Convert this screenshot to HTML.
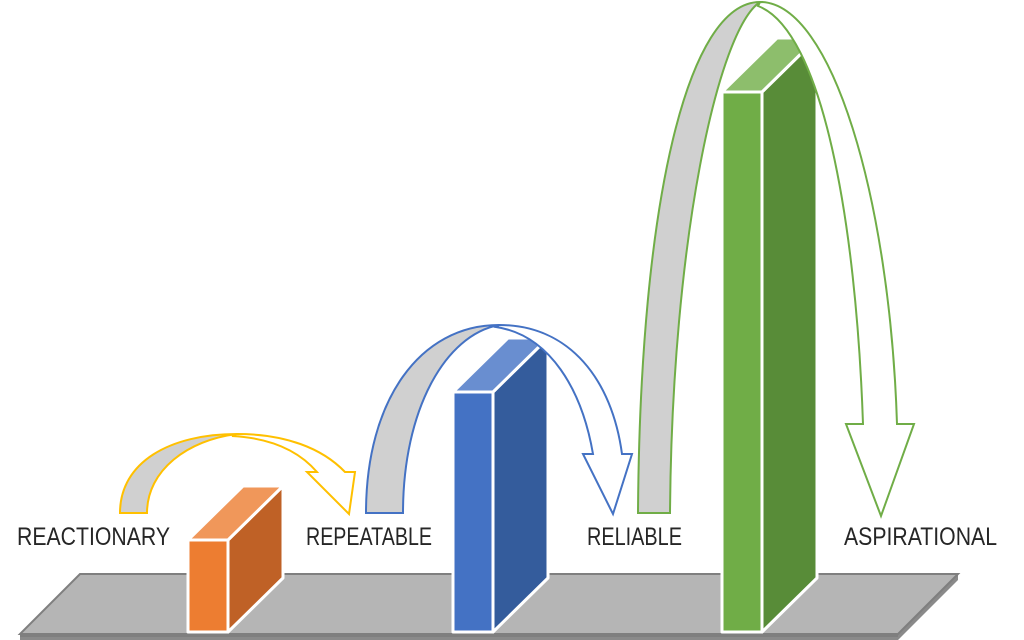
<!DOCTYPE html>
<html><head><meta charset="utf-8"><style>
html,body{margin:0;padding:0;background:#fff;width:1024px;height:640px;overflow:hidden}
svg{display:block}
text{font-family:"Liberation Sans",sans-serif;font-size:25px;fill:#262626;font-weight:normal}
</style></head><body>
<svg width="1024" height="640" viewBox="0 0 1024 640" xmlns="http://www.w3.org/2000/svg">
<!-- platform -->
<polygon points="958,574 958,580 898,640 20,640 20,634 898,634" fill="#8a8a8a"/>
<polygon points="80,574 958,574 898,634 20,634" fill="#b5b5b5" stroke="#7f7f7f" stroke-width="2"/>
<line x1="20" y1="636" x2="898" y2="636" stroke="#7f7f7f" stroke-width="2"/>

<!-- labels -->
<text x="17" y="545" textLength="153" lengthAdjust="spacingAndGlyphs">REACTIONARY</text>
<text x="306" y="545" textLength="126" lengthAdjust="spacingAndGlyphs">REPEATABLE</text>
<text x="587" y="545" textLength="95" lengthAdjust="spacingAndGlyphs">RELIABLE</text>
<text x="844" y="545" textLength="153" lengthAdjust="spacingAndGlyphs">ASPIRATIONAL</text>

<!-- orange arrow back -->
<path d="M120,513 C120,462 170,434 237,434 C188,440 147,470 147,513 Z" fill="#d0d0d0" stroke="#ffc000" stroke-width="2"/>
<!-- orange bar -->
<g stroke="#fff" stroke-width="3" stroke-linejoin="round">
<polygon points="228,540 283,486 283,578 228,632" fill="#bf6126"/>
<polygon points="188,540 243,486 283,486 228,540" fill="#f0975a"/>
<rect x="188" y="540" width="40" height="92" fill="#ed7d31"/>
</g>
<!-- orange arrow front -->
<path d="M237,434 C285,434 322,448 345,472 L355,472 L349,514 L307,472 L317,472 C298,450 270,438 232,436 Z" fill="#fff" stroke="#ffc000" stroke-width="2" stroke-linejoin="miter"/>

<!-- blue arrow back -->
<path d="M366,513 C366,400 420,325 499,325 C445,335 403,410 403,513 Z" fill="#d0d0d0" stroke="#4472c4" stroke-width="2"/>
<g stroke="#fff" stroke-width="3" stroke-linejoin="round">
<polygon points="493,392 548,338 548,578 493,632" fill="#345c9c"/>
<polygon points="453,392 508,338 548,338 493,392" fill="#698ed0"/>
<rect x="453" y="392" width="40" height="240" fill="#4472c4"/>
</g>
<path d="M499,325 C570,325 612,380 622,454 L632,454 L613,514 L583,454 L593,454 C582,390 550,335 496,327 Z" fill="#fff" stroke="#4472c4" stroke-width="2"/>

<!-- green arrow back -->
<path d="M638,513 C640,200 688,2 760,2 C718,30 672,240 670,513 Z" fill="#d0d0d0" stroke="#70ad47" stroke-width="2"/>
<g stroke="#fff" stroke-width="3" stroke-linejoin="round">
<polygon points="762,92 817,38 817,578 762,632" fill="#588c38"/>
<polygon points="722,92 777,38 817,38 762,92" fill="#8dbe6c"/>
<rect x="722" y="92" width="40" height="540" fill="#70ad47"/>
</g>
<path d="M760,2 C832,2 890,200 897,424 L914,424 L881,516 L846,424 L863,424 C856,220 822,30 758,6 Z" fill="#fff" stroke="#70ad47" stroke-width="2"/>
</svg>
</body></html>
